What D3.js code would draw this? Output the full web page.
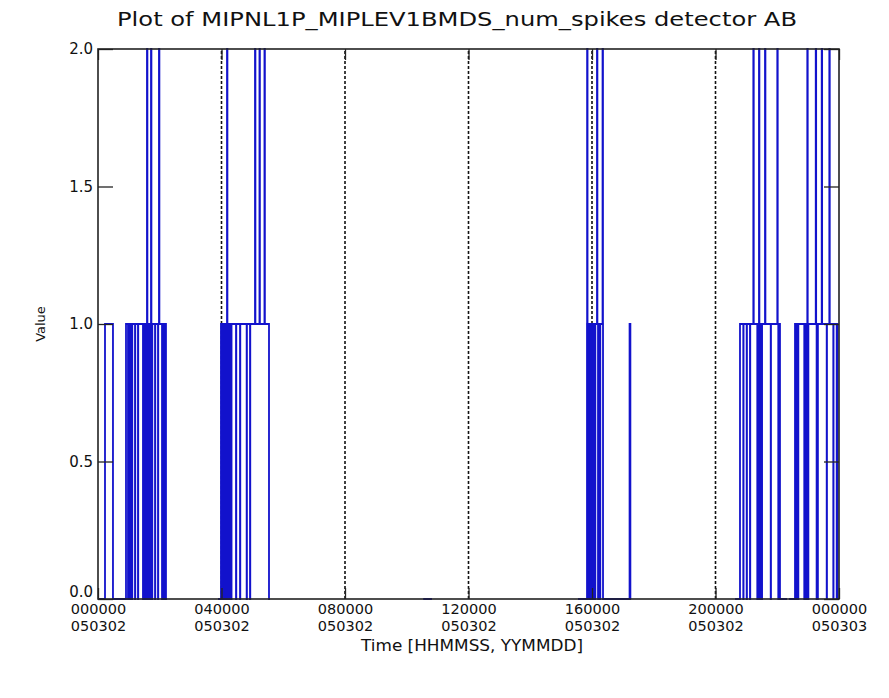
<!DOCTYPE html>
<html>
<head>
<meta charset="utf-8">
<script src="https://cdn.jsdelivr.net/npm/d3@7"></script>
<style>
  body { margin: 0; background: #ffffff; }
  svg { display: block; }
  text { font-family: "DejaVu Sans", sans-serif; fill: #111; }
</style>
</head>
<body>
<svg id="chart" width="889" height="698"></svg>
<script>
// Time axis in minutes from 2005-03-02 00:00:00
const xTickMinutes = [0, 240, 480, 720, 960, 1200, 1440];
const xTickTime = ["000000", "040000", "080000", "120000", "160000", "200000", "000000"];
const xTickDate = ["050302", "050302", "050302", "050302", "050302", "050302", "050303"];
const yTicks = [0, 0.5, 1.0, 1.5, 2.0];

// Runs of data at a base level (start minute, end minute, level)
const runStart = [0, 13.6, 29.1, 54.4, 132.1, 233.2, 239, 332.3, 632, 932.8, 950.3, 981.4, 1033, 1034.6, 1238, 1247.6, 1325.3, 1343, 1354.5, 1437];
const runEnd   = [13.6, 29.1, 54.4, 132.1, 134, 239, 332.3, 334.2, 649, 950.3, 981.4, 1033, 1034.6, 1036, 1247.6, 1325.3, 1339, 1354.5, 1437, 1440];
const runLevel = [0, 1, 0, 1, 0, 0, 1, 0, 0, 0, 1, 0, 1, 0, 0, 1, 0, 0, 1, 0];

// Brief drops to zero spikes inside level-1 runs (minute)
const dipMinutes = [
  58.3, 62.2, 66.1, 71.9, 77.7, 87.4, 89.4, 91.3, 93.3, 97.2, 99.1, 101.1, 105, 110.8, 116.6, 124.4, 126.3, 128.2, 130.2,
  241, 243, 245, 247, 249, 253, 255, 257, 259, 268.2, 276, 288.9, 295.4,
  952, 954, 956, 958, 960, 962, 964, 966, 971.7, 975.6,
  1254, 1260.6, 1267, 1281.2, 1283, 1286.5, 1288.3, 1290, 1307.3, 1322, 1324,
  1356.5, 1358.5, 1360.5, 1372.5, 1374.5, 1376.5, 1380, 1396.5, 1398.5, 1416.1, 1428.9, 1435.5
];
// Brief rises to two spikes (minute)
const peakMinutes = [95.2, 103, 118.5, 250.7, 305.1, 313.8, 323.5, 950.5, 969.7, 980.5,
  1273.5, 1284.5, 1296.2, 1320.1, 1378.4, 1394.8, 1406.4, 1421.2];

const dipWidth = 0.5, peakWidth = 0.8;

const svg = d3.select("#chart");
const margin = { left: 98, right: 50, top: 49, bottom: 99 };
const W = 889, H = 698;

const x = d3.scaleLinear().domain([0, 1440]).range([margin.left, W - margin.right]);
const y = d3.scaleLinear().domain([0, 2]).range([H - margin.bottom, margin.top]);

// Build step series from runs plus excursions
const series = [];
runStart.forEach((s, i) => {
  const e = runEnd[i], lv = runLevel[i];
  series.push({ m: s, v: lv });
  const ex = [];
  dipMinutes.filter(m => m >= s && m < e).forEach(m => ex.push({ m, v: 0, w: dipWidth }));
  peakMinutes.filter(m => m >= s && m < e).forEach(m => ex.push({ m, v: 2, w: peakWidth }));
  ex.sort((a, b) => a.m - b.m).forEach(d => {
    series.push({ m: d.m, v: d.v });
    series.push({ m: d.m + d.w, v: lv });
  });
  const segmentEnds = (i === runStart.length - 1) || runStart[i + 1] !== e;
  if (segmentEnds) {
    series.push({ m: e, v: lv });
    series.push({ m: e, v: null });
  }
});

// Dotted guide lines at interior hour ticks
svg.append("g").selectAll("line")
  .data(xTickMinutes.slice(1, -1))
  .join("line")
  .attr("x1", d => x(d)).attr("x2", d => x(d))
  .attr("y1", y(0)).attr("y2", y(2))
  .attr("stroke", "#111").attr("stroke-width", 1.6)
  .attr("stroke-dasharray", "3,2");

// Data trace
const line = d3.line()
  .defined(d => d.v !== null)
  .x(d => x(d.m)).y(d => y(d.v))
  .curve(d3.curveStepAfter);

svg.append("path")
  .datum(series)
  .attr("d", line)
  .attr("fill", "none")
  .attr("stroke", "#1212cc")
  .attr("stroke-width", 1.8);

// Axes with inward ticks on all four sides
const yLeft = d3.axisLeft(y).tickValues(yTicks).tickSize(-15).tickSizeOuter(0).tickPadding(5)
  .tickFormat(d3.format(".1f"));
const yRight = d3.axisRight(y).tickValues(yTicks).tickSize(-15).tickSizeOuter(0).tickFormat("");
const xBottom = d3.axisBottom(x).tickValues(xTickMinutes).tickSize(-11).tickSizeOuter(0).tickPadding(3)
  .tickFormat((d, i) => xTickTime[i]);
const xTop = d3.axisTop(x).tickValues(xTickMinutes).tickSize(-11).tickSizeOuter(0).tickFormat("");

function styleAxis(g, size) {
  g.select(".domain").remove();
  g.selectAll(".tick line").attr("stroke", "#222").attr("stroke-width", 1.3);
  g.selectAll(".tick text").attr("font-size", size).attr("font-family", "DejaVu Sans").attr("fill", "#111");
}

const gy = svg.append("g").attr("transform", `translate(${margin.left},0)`).call(yLeft).call(styleAxis, 15);
// Lowest value label sits slightly raised above the time labels
gy.selectAll(".tick text").filter(d => d === 0).attr("dy", "-0.18em");
svg.append("g").attr("transform", `translate(${W - margin.right},0)`).call(yRight).call(styleAxis, 15);
svg.append("g").attr("transform", `translate(0,${margin.top})`).call(xTop).call(styleAxis, 15);
const gx = svg.append("g").attr("transform", `translate(0,${H - margin.bottom})`).call(xBottom).call(styleAxis, 14.5);
gx.selectAll(".tick text").each(function (d, i) {
  const t = d3.select(this);
  t.text(null);
  t.append("tspan").attr("x", 0).attr("dy", "0.8em").text(xTickTime[i]);
  t.append("tspan").attr("x", 0).attr("dy", "1.17em").text(xTickDate[i]);
});
gx.selectAll(".tick text").attr("dy", null);

// Frame
svg.append("rect")
  .attr("x", margin.left).attr("y", margin.top)
  .attr("width", W - margin.left - margin.right)
  .attr("height", H - margin.top - margin.bottom)
  .attr("fill", "none").attr("stroke", "#222").attr("stroke-width", 1.6);

// Titles
svg.append("text")
  .attr("x", 117).attr("y", 26)
  .attr("font-size", 19)
  .attr("textLength", 680).attr("lengthAdjust", "spacingAndGlyphs")
  .text("Plot of MIPNL1P_MIPLEV1BMDS_num_spikes detector AB");

svg.append("text")
  .attr("x", 472).attr("y", 651)
  .attr("text-anchor", "middle")
  .attr("font-size", 15)
  .attr("textLength", 222).attr("lengthAdjust", "spacingAndGlyphs")
  .text("Time [HHMMSS, YYMMDD]");

svg.append("text")
  .attr("transform", `translate(45,${(y(0) + y(2)) / 2}) rotate(-90)`)
  .attr("text-anchor", "middle")
  .attr("font-size", 13)
  .text("Value");
</script>
</body>
</html>
